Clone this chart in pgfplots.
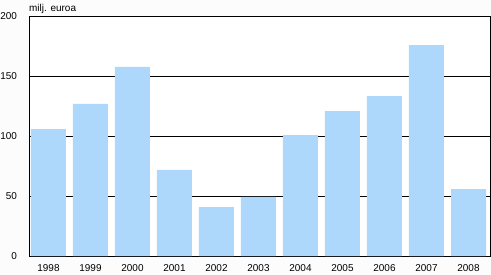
\documentclass[border=0pt]{standalone}
\usepackage{pgfplots}
\pgfplotsset{compat=1.18}
\usepackage{fontspec}
\setmainfont{Liberation Sans}
\usetikzlibrary{backgrounds}
\definecolor{barblue}{RGB}{173,216,251}
\definecolor{outbg}{RGB}{252,252,252}
\begin{document}
\begin{tikzpicture}
\begin{axis}[
  at={(0,0)}, anchor=south west,
  scale only axis, width=461bp, height=240bp,
  ymin=0, ymax=200, ytick={0,50,100,150,200},
  xmin=-0.464, xmax=10.512,
  xtick={0,...,10},
  xticklabels={1998,1999,2000,2001,2002,2003,2004,2005,2006,2007,2008},
  major tick length=0pt,
  ymajorgrids, grid style={black, line width=0.9bp},
  axis line style={black, line width=0.9bp},
  axis background/.style={fill=white},
  tick label style={font=\fontsize{10}{12}\selectfont},
  /pgf/number format/assume math mode=true,
  yticklabel style={xshift=-8.5bp},
  xticklabel style={yshift=-5bp},
  clip=false,
]
\addplot[ybar, bar width=35bp, fill=barblue, draw=none] coordinates {
 (0,105.8) (1,126.7) (2,157.5) (3,71.7) (4,40.8) (5,49.3)
 (6,100.8) (7,120.8) (8,133.3) (9,175.8) (10,55.8)
};
\node[anchor=base west, inner sep=0pt, font=\fontsize{10}{12}\selectfont] at (rel axis cs:0,1) [yshift=4.5bp] {milj. euroa};
\end{axis}
\begin{scope}[on background layer]
\fill[outbg] (-29bp,-19bp) rectangle (462bp,256bp);
\end{scope}
\pgfresetboundingbox
\useasboundingbox (-29bp,-19bp) rectangle (462bp,256bp);
\end{tikzpicture}
\end{document}
